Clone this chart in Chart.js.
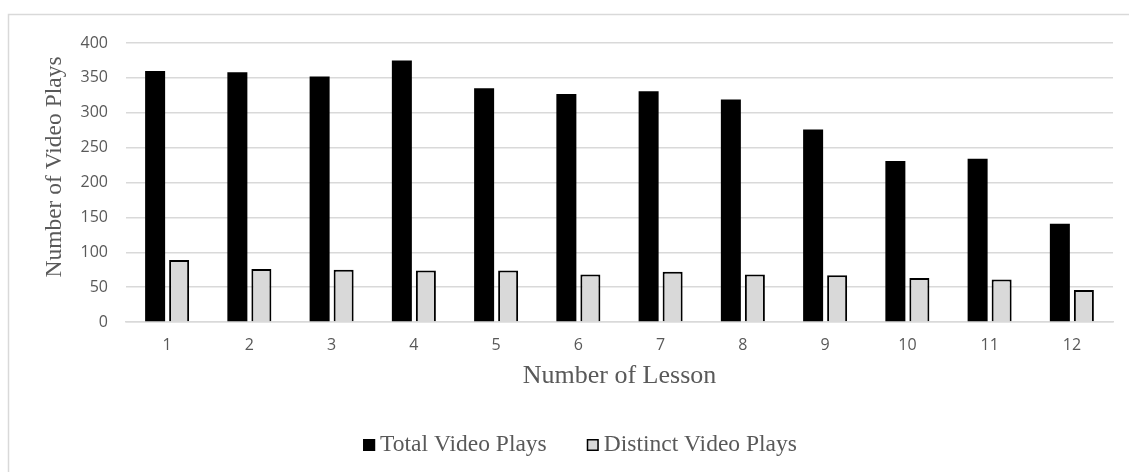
<!DOCTYPE html>
<html>
<head>
<meta charset="utf-8">
<script src="https://cdn.jsdelivr.net/npm/chart.js@4.4.1/dist/chart.umd.min.js"></script>
<style>
  html, body { margin: 0; padding: 0; background: #fff; }
  #wrap { position: relative; width: 1129px; height: 472px; }
</style>
</head>
<body>
<div id="wrap"><canvas id="c" width="1129" height="472"></canvas></div>
<script>
// Lessons on the x axis
const lessons = ['1', '2', '3', '4', '5', '6', '7', '8', '9', '10', '11', '12'];
// Video plays per lesson
const totalPlays = [360, 358, 352, 375, 335, 327, 331, 319, 276, 231, 234, 141];
const distinctPlays = [89, 76, 75, 74, 74, 68, 72, 68, 67, 63, 61, 46];
// Series names and axis titles
const seriesNames = ['Total Video Plays', 'Distinct Video Plays'];
const xTitle = 'Number of Lesson';
const yTitle = 'Number of Video Plays';
// Value axis range
const yRange = [0, 400];
const yStep = 50;

const TEXT = '#595959';
const GRID = '#d9d9d9';
const SERIF = '"Liberation Serif", "Times New Roman", serif';
const SANS = '"Open Sans", "Noto Sans", sans-serif';

// Light frame around the chart, cropped at the right and bottom edges
const framePlugin = {
  id: 'frame',
  beforeDraw(chart) {
    const ctx = chart.ctx;
    ctx.save();
    ctx.fillStyle = '#fff';
    ctx.fillRect(0, 0, chart.width, chart.height);
    ctx.strokeStyle = GRID;
    ctx.lineWidth = 1.5;
    ctx.strokeRect(8.5, 14.5, 1143, 480);
    ctx.restore();
  }
};

// Rotated value-axis title
const yTitlePlugin = {
  id: 'yTitle',
  afterDraw(chart) {
    const ctx = chart.ctx;
    ctx.save();
    ctx.translate(61, 167);
    ctx.rotate(-Math.PI / 2);
    ctx.font = '23.5px ' + SERIF;
    ctx.fillStyle = TEXT;
    ctx.textAlign = 'center';
    ctx.textBaseline = 'alphabetic';
    ctx.fillText(yTitle, 0, 0);
    ctx.restore();
  }
};

// Legend row below the axis, centred on the chart frame
const legendPlugin = {
  id: 'bottomLegend',
  afterDraw(chart) {
    const ctx = chart.ctx;
    const box = 12, gapText = 5, gapItem = 40, centerX = 580, baseY = 451;
    ctx.save();
    ctx.font = '23.5px ' + SERIF;
    const items = chart.data.datasets.map(ds => ({
      ds, w: ctx.measureText(ds.label).width
    }));
    const total = items.reduce((s, it) => s + box + gapText + it.w, 0) + gapItem * (items.length - 1);
    let x = centerX - total / 2;
    items.forEach(({ ds, w }) => {
      ctx.fillStyle = ds.backgroundColor;
      ctx.fillRect(x, baseY - box, box, box);
      ctx.strokeStyle = ds.borderColor;
      ctx.lineWidth = 1.5;
      ctx.strokeRect(x + 0.75, baseY - box + 0.75, box - 1.5, box - 1.5);
      ctx.fillStyle = TEXT;
      ctx.textBaseline = 'alphabetic';
      ctx.textAlign = 'left';
      ctx.fillText(ds.label, x + box + gapText, baseY);
      x += box + gapText + w + gapItem;
    });
    ctx.restore();
  }
};

new Chart(document.getElementById('c'), {
  type: 'bar',
  data: {
    labels: lessons,
    datasets: [
      {
        label: seriesNames[0],
        data: totalPlays,
        backgroundColor: '#000000',
        borderColor: '#000000',
        borderWidth: 0,
        categoryPercentage: 0.584,
        barPercentage: 0.833
      },
      {
        label: seriesNames[1],
        data: distinctPlays,
        backgroundColor: '#d9d9d9',
        borderColor: '#000000',
        borderWidth: 2,
        categoryPercentage: 0.584,
        barPercentage: 0.833
      }
    ]
  },
  options: {
    responsive: false,
    devicePixelRatio: 1,
    animation: false,
    events: [],
    layout: { padding: { top: 43, left: 0, right: 16, bottom: 80 } },
    plugins: {
      legend: { display: false },
      tooltip: { enabled: false },
      title: { display: false }
    },
    scales: {
      x: {
        z: 1,
        grid: { display: false, drawTicks: false },
        border: { display: true, color: GRID, width: 1.5 },
        ticks: { color: TEXT, font: { family: SANS, size: 16 }, padding: 14 },
        title: {
          display: true,
          text: xTitle,
          color: TEXT,
          font: { family: SERIF, size: 26 },
          padding: { top: 0, bottom: 0 }
        },
        afterFit(scale) { scale.height = 70; }
      },
      y: {
        min: yRange[0],
        max: yRange[1],
        ticks: { stepSize: yStep, color: TEXT, font: { family: SANS, size: 16 }, padding: 18 },
        grid: { color: GRID, lineWidth: 1.5, drawTicks: false },
        border: { display: false },
        afterFit(scale) { scale.width = 126; }
      }
    }
  },
  plugins: [framePlugin, yTitlePlugin, legendPlugin]
});
</script>
</body>
</html>
